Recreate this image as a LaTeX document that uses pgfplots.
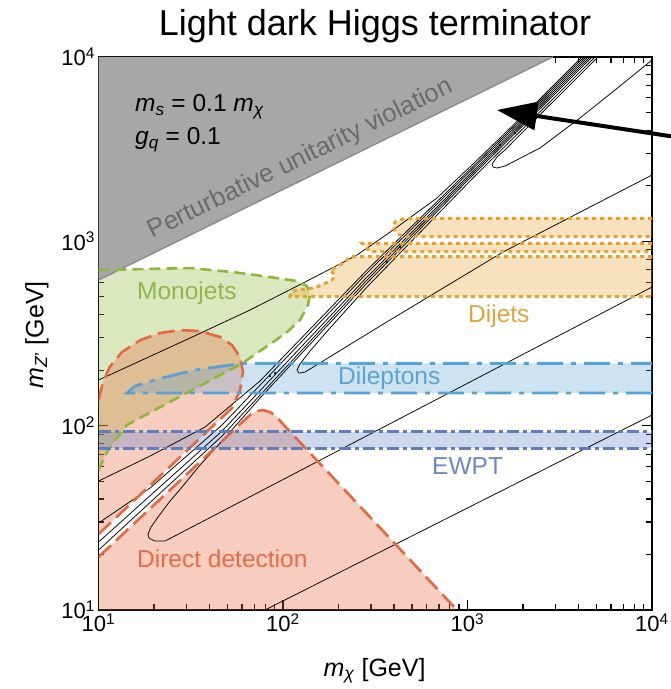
\documentclass[border=0pt]{standalone}
\usepackage{pgfplots}
\pgfplotsset{compat=1.18}
\usepackage{fontspec}
\setmainfont{Liberation Sans}
\usetikzlibrary{arrows.meta}

\definecolor{mjline}{HTML}{8DB83C}
\definecolor{mjtext}{HTML}{93B646}
\definecolor{ddline}{HTML}{E8673F}
\definecolor{ddtext}{HTML}{EA6B45}
\definecolor{dlline}{HTML}{5AA2D2}
\definecolor{dltext}{HTML}{5DA2D1}
\definecolor{ewline}{HTML}{5A7EC0}
\definecolor{ewtext}{HTML}{6C88C6}
\definecolor{djline}{HTML}{E9A232}
\definecolor{djtext}{HTML}{E5A33B}
\definecolor{pugray}{HTML}{A7A7A7}
\definecolor{puedge}{HTML}{8C8C8C}
\definecolor{putext}{HTML}{6B6B6B}

\begin{document}
\begin{tikzpicture}
\path[use as bounding box] (-98.5pt,-79pt) rectangle (572.5pt,610pt);
\begin{loglogaxis}[
  at={(0pt,0pt)}, anchor=south west,
  scale only axis, width=553.5pt, height=553pt,
  xmin=10, xmax=10000, ymin=10, ymax=10000,
  clip mode=individual,
  tick align=inside,
  major tick length=10pt, minor tick length=6pt,
  axis line style={line width=1.8pt},
  tick style={black, line width=1.2pt},
  xtick={10,100,1000,10000},
  ytick={10,100,1000,10000},
  minor xtick={20,30,40,50,60,70,80,90,200,300,400,500,600,700,800,900,2000,3000,4000,5000,6000,7000,8000,9000},
  minor ytick={20,30,40,50,60,70,80,90,200,300,400,500,600,700,800,900,2000,3000,4000,5000,6000,7000,8000,9000},
  xticklabels={{10\textsuperscript{1}},{10\textsuperscript{2}},{10\textsuperscript{3}},{10\textsuperscript{4}}},
  yticklabels={{10\textsuperscript{1}},{10\textsuperscript{2}},{10\textsuperscript{3}},{10\textsuperscript{4}}},
  tick label style={font=\fontsize{22}{22}\selectfont},
]
% ---------- filled exclusion regions ----------
% monojets
\addplot[draw=none, fill=mjline, fill opacity=0.32] coordinates {
 (10,699) (31.3,716) (53.6,681) (85.0,640) (119.1,609) (134.9,572) (140.1,518)
 (136.6,451) (123.6,374) (105.1,322) (88.3,284) (72.3,248) (60.7,219)
 (14.27,101) (11.26,73.7) (10,57.4)};
% direct detection, region above the resonance strip
\addplot[draw=none, fill=ddline, fill opacity=0.33] coordinates {
 (10,25.8) (52.9,124.6) (58.5,156) (60.7,195.4) (58.5,235.6) (52.9,273.7)
 (45.6,302.5) (35.5,326) (27.7,330) (21.5,318) (16.8,291) (13.4,250.8)
 (11.5,208) (10.58,172.4) (10,137.7)};
% direct detection, region below the resonance strip
\addplot[draw=none, fill=ddline, fill opacity=0.33] coordinates {
 (10,10) (10,19.4) (66.2,114.2) (72.3,120) (77.9,121.5) (85.0,118.5)
 (91.6,112.7) (98.8,103.3) (877,10)};
% dileptons
\addplot[draw=none, fill=dlline, fill opacity=0.3] coordinates {
 (10000,150.3) (14.27,150.3) (15.8,164) (22.1,181.3) (33.3,200.3)
 (59.96,217.8) (10000,217.8)};
% EWPT
\addplot[draw=none, fill=ewline, fill opacity=0.3] coordinates {
 (10,75.3) (10000,75.3) (10000,92.7) (10,92.7)};
% dijets (three mass windows)
\addplot[draw=none, fill=djline, fill opacity=0.32] coordinates {
 (10000,825) (230.7,825) (222.3,791.7) (196.2,725.5) (179.8,698.8) (191.3,656.5)
 (184.3,616.6) (162.7,579.5) (145.4,558) (119.1,544.3) (110.5,530.8)
 (109.1,500.6) (10000,500.6)};
\addplot[draw=none, fill=djline, fill opacity=0.32] coordinates {
 (10000,975.2) (268.1,975.2) (296.1,878.3) (10000,878.3)};
\addplot[draw=none, fill=djline, fill opacity=0.32] coordinates {
 (10000,1333) (458.3,1333) (404.6,1272.6) (394.7,1181) (420.2,1095.6)
 (458.3,1059.3) (10000,1059.3)};
% perturbative unitarity
\addplot[draw=none, fill=pugray] coordinates {(10,616.6) (2904,10000) (10,10000)};
\addplot[draw=puedge, line width=1.4pt] coordinates {(10,616.6) (2904,10000)};

% ---------- relic density contours ----------
\addplot[black, line width=0.75pt, line join=round] coordinates {
 (10,176.8) (31.33,298.8) (66.24,423.9) (134.9,609.0) (251.8,842.7) (394.7,1151)
 (683.6,1718) (1071,2627) (1500,3635) (2472,5917) (4175,10000)};
\addplot[black, line width=0.75pt, line join=round] coordinates {
 (10,50.05) (19.02,68.40) (37.78,98.26) (75.04,174.6) (285.3,698.6) (1071,2546)
 (2472,5792) (4280,10000)};
\addplot[black, line width=0.75pt, line join=round] coordinates {
 (10,29.61) (19.02,45.86) (46.71,100.75) (285.3,673.0) (1071,2483) (2472,5649)
 (4388,10000)};
\addplot[black, line width=0.75pt, line join=round] coordinates {
 (10,23.36) (46.71,93.47) (285.3,640.2) (1071,2407) (2472,5510) (4498,10000)};
\addplot[black, line width=0.75pt, line join=round] coordinates {
 (10,21.13) (46.71,87.82) (285.3,616.6) (1071,2348) (2472,5374) (4613,10000)};
\addplot[black, line width=0.75pt, line join=round] coordinates {
 (10000,564.9) (22.94,23.65) (20.24,23.65) (18.78,24.56) (18.55,25.82)
 (19.26,28.17) (21.01,31.92) (24.41,38.98) (28.36,46.44) (35.49,61.13)
 (46.71,82.50) (75.04,141.1) (285.3,593.9) (1071,2290) (2472,5242) (4730,10000)};
\addplot[black, line width=0.75pt, line join=round] coordinates {
 (10000,2290) (1557,874.9) (335.6,347.0) (131.6,195.3) (122.1,192.9)
 (119.1,200.3) (123.6,215.9) (140.1,254.0) (179.8,338.5) (285.3,564.9)
 (1071,2206) (2472,5049) (4911,10000)};
\addplot[black, line width=0.75pt, line join=round] coordinates {
 (10000,9632) (6709,6960) (4072,4667) (2472,3208) (1597,2562) (1445,2499)
 (1375,2530) (1358,2627) (1445,2867) (1597,3129) (2472,4863) (5097,10000)};
\addplot[black, line width=0.75pt] coordinates {(79.88,10) (10000,114.2)};
\addplot[only marks, mark=*, mark size=0.8pt, black] coordinates {
 (1809,3869) (1500,3331) (430.6,931) (366.2,772) (90.5,192.9) (85,185.8)};

% ---------- region boundaries ----------
\addplot[ddline, line width=2.6pt, dash pattern=on 17pt off 7pt] coordinates {
 (10,25.8) (52.9,124.6) (58.5,156) (60.7,195.4) (58.5,235.6) (52.9,273.7)
 (45.6,302.5) (35.5,326) (27.7,330) (21.5,318) (16.8,291) (13.4,250.8)
 (11.5,208) (10.58,172.4) (10,137.7)};
\addplot[ddline, line width=2.6pt, dash pattern=on 17pt off 7pt] coordinates {
 (10,19.4) (66.2,114.2) (72.3,120) (77.9,121.5) (85.0,118.5)
 (91.6,112.7) (98.8,103.3) (877,10)};
\addplot[mjline, line width=2.6pt, dash pattern=on 11pt off 6pt, line join=round] coordinates {
 (10,699) (31.3,716) (53.6,681) (85.0,640) (119.1,609) (134.9,572) (140.1,518)
 (136.6,451) (123.6,374) (105.1,322) (88.3,284) (72.3,248) (60.7,219)
 (14.27,101) (11.26,73.7) (10,57.4)};
\addplot[dlline, line width=2.8pt, dash pattern=on 26pt off 8pt on 5pt off 8pt] coordinates {
 (10000,150.3) (14.27,150.3) (15.8,164) (22.1,181.3) (33.3,200.3)
 (59.96,217.8) (10000,217.8)};
\addplot[ewline, line width=3.2pt, dash pattern=on 12pt off 4pt on 4pt off 4pt] coordinates {
 (10,92.7) (10000,92.7)};
\addplot[ewline, line width=3.2pt, dash pattern=on 12pt off 4pt on 4pt off 4pt] coordinates {
 (10,75.3) (10000,75.3)};
\addplot[djline, line width=3pt, dash pattern=on 4pt off 4pt] coordinates {
 (10000,825) (230.7,825) (222.3,791.7) (196.2,725.5) (179.8,698.8) (191.3,656.5)
 (184.3,616.6) (162.7,579.5) (145.4,558) (119.1,544.3) (110.5,530.8)
 (109.1,500.6) (10000,500.6)};
\addplot[djline, line width=3pt, dash pattern=on 4pt off 4pt] coordinates {
 (10000,975.2) (268.1,975.2) (296.1,878.3) (10000,878.3)};
\addplot[djline, line width=3pt, dash pattern=on 4pt off 4pt] coordinates {
 (10000,1333) (458.3,1333) (404.6,1272.6) (394.7,1181) (420.2,1095.6)
 (458.3,1059.3) (10000,1059.3)};
\end{loglogaxis}

% ---------- annotations ----------
\node[anchor=base, font=\fontsize{36}{36}\selectfont] at (276.5pt,574pt) {Light dark Higgs terminator};
\node[anchor=base, font=\fontsize{25}{25}\selectfont] at (276pt,-66pt) {\textit{m}\textsubscript{\textit{χ}} [GeV]};
\node[anchor=base, rotate=90, font=\fontsize{25}{25}\selectfont] at (-55pt,275pt) {\textit{m}\textsubscript{\textit{Z}'} [GeV]};

\begin{scope}[font=\fontsize{24.5}{24.5}\selectfont]
\node[anchor=base west, inner sep=0pt] at (36.5pt,498pt) {\textit{m}\textsubscript{\textit{s}} = 0.1 \textit{m}\textsubscript{\textit{χ}}};
\node[anchor=base west, inner sep=0pt] at (36.5pt,465pt) {\textit{g}\textsubscript{\textit{q}} = 0.1};
\node[anchor=base west, inner sep=0pt, text=putext, rotate=26, font=\fontsize{25.6}{25.6}\selectfont] at (54pt,371pt) {Perturbative unitarity violation};
\node[anchor=base west, inner sep=0pt, text=mjtext] at (38.5pt,310pt) {Monojets};
\node[anchor=base west, inner sep=0pt, text=djtext] at (369.5pt,287pt) {Dijets};
\node[anchor=base west, inner sep=0pt, text=dltext] at (239.5pt,225pt) {Dileptons};
\node[anchor=base west, inner sep=0pt, text=ewtext] at (333.5pt,135pt) {EWPT};
\node[anchor=base west, inner sep=0pt, text=ddtext] at (38.5pt,42pt) {Direct detection};
\end{scope}

\draw[line width=4pt, -{Triangle[length=40pt, width=28pt]}] (584pt,472pt) -- (398.5pt,500pt);
\end{tikzpicture}
\end{document}
